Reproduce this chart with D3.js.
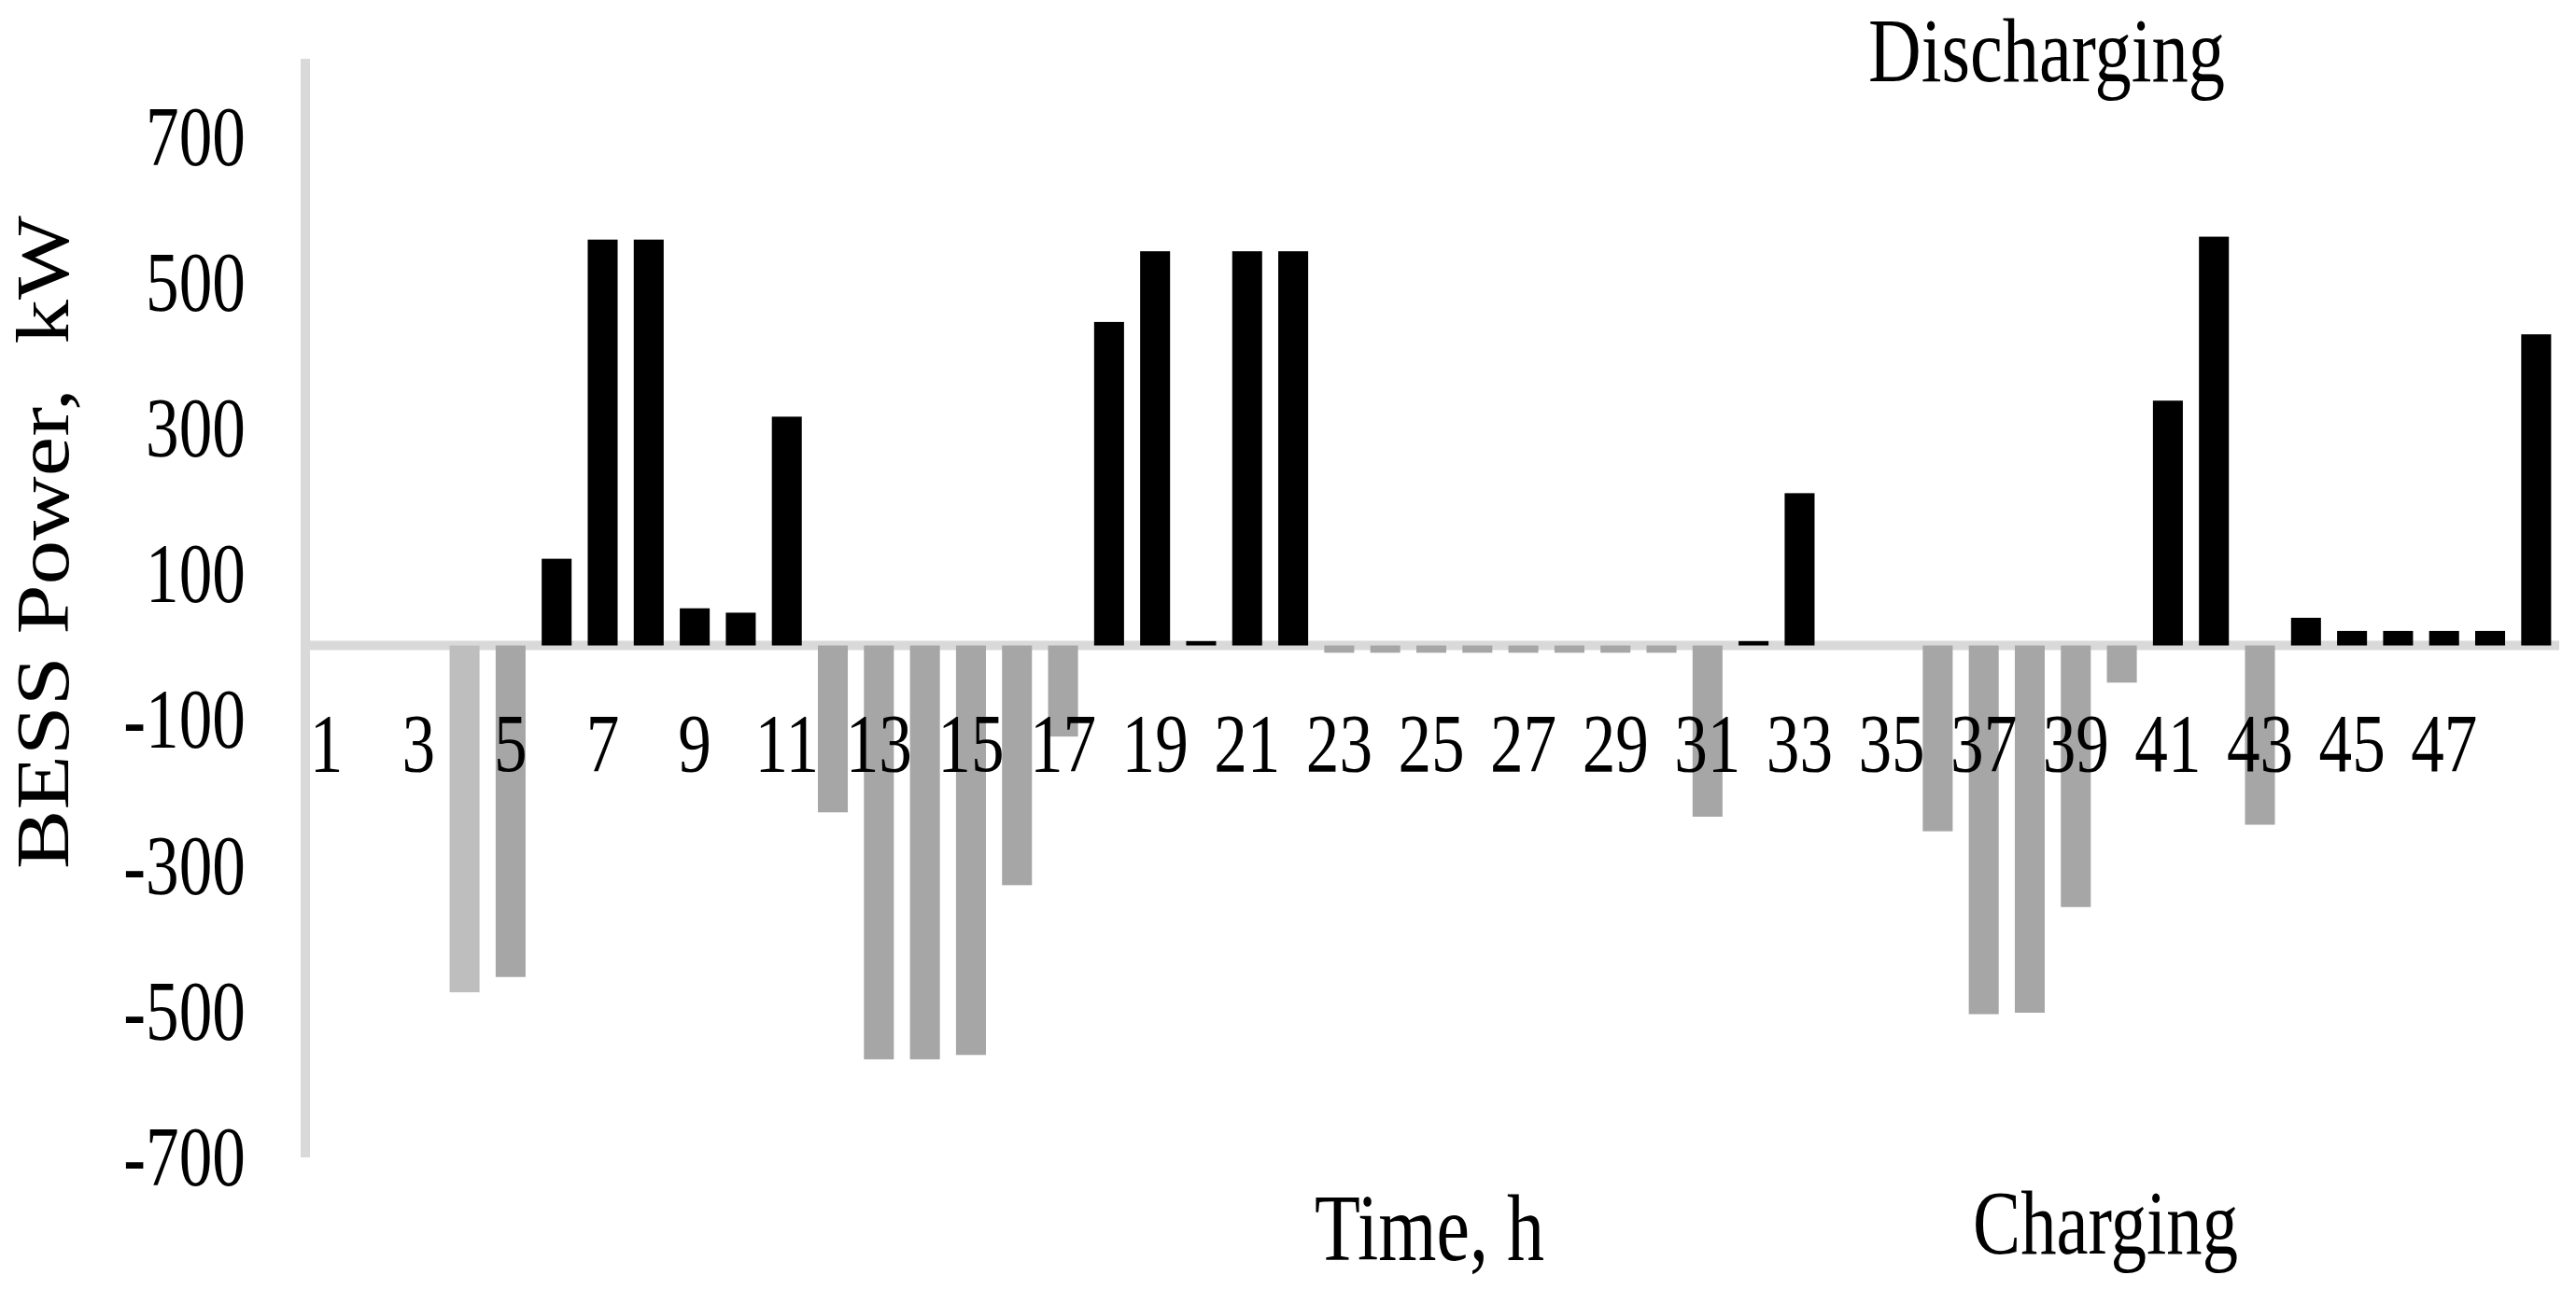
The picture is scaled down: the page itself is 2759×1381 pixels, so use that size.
<!DOCTYPE html>
<html><head><meta charset="utf-8">
<script src="https://cdn.jsdelivr.net/npm/d3@7"></script>
<style>
html,body{margin:0;padding:0;background:#fff;}
svg{display:block;}
text{font-family:"Liberation Serif","Times New Roman",serif;fill:#000;}
</style></head><body>
<svg id="chart" width="2759" height="1381"></svg>
<script>
// ---- data ----
const hours = [1,2,3,4,5,6,7,8,9,10,11,12,13,14,15,16,17,18,19,20,21,22,23,24,25,
  26,27,28,29,30,31,32,33,34,35,36,37,38,39,40,41,42,43,44,45,46,47,48,49];
const bessPower = [0,0,0,-476,-455,119,557,557,51,45,314,-229,-568,-568,-562,-329,-125,
  444,541,6,541,541,-10,-10,-10,-10,-10,-10,-10,-10,-235,6,209,0,0,-255,-506,-504,-359,
  -51,336,561,-246,38,20,20,20,20,427];
const yTickValues = [-700,-500,-300,-100,100,300,500,700];
const xTickLabels = [1,3,5,7,9,11,13,15,17,19,21,23,25,27,29,31,33,35,37,39,41,43,45,47];
const yDomain = [-700, 800];
const lighterHours = [4];

// ---- layout ----
const svg = d3.select("#chart");
const x = d3.scaleBand().domain(hours).range([325, 2741]).paddingInner(0.35).paddingOuter(0.175);
const y = d3.scaleLinear().domain(yDomain).range([1238, 67]);
const axisColor = "#D9D9D9";
const y0 = y(0);

// y-axis line
svg.append("line")
  .attr("x1", 327).attr("x2", 327)
  .attr("y1", y(yDomain[1]) - 4).attr("y2", y(yDomain[0]) + 2)
  .attr("stroke", axisColor).attr("stroke-width", 10);

// zero (category) axis line
svg.append("line")
  .attr("x1", 325).attr("x2", 2741)
  .attr("y1", y0).attr("y2", y0)
  .attr("stroke", axisColor).attr("stroke-width", 10);

// bars
svg.append("g").selectAll("rect")
  .data(hours.map((h, i) => ({h, v: bessPower[i]})))
  .join("rect")
  .attr("x", d => x(d.h))
  .attr("width", x.bandwidth())
  .attr("y", d => y(Math.max(0, d.v)))
  .attr("height", d => Math.abs(y(d.v) - y0))
  .attr("fill", d => d.v >= 0 ? "#000000" : (lighterHours.includes(d.h) ? "#BEBEBE" : "#A6A6A6"));

// y axis ticks
const sy = 0.775;
const gy = svg.append("g").attr("transform", "translate(327,0)")
  .call(d3.axisLeft(y).tickValues(yTickValues).tickSize(0).tickFormat(d => String(d)));
gy.select(".domain").remove();
gy.selectAll("text")
  .attr("x", -64 / sy).attr("dy", "0.34em")
  .attr("transform", `scale(${sy},1)`)
  .style("font-size", "92px").style("font-family", '"Liberation Serif", serif').attr("fill", "#000");

// x axis ticks
const sx = 0.8;
const gx = svg.append("g").attr("transform", `translate(0,${y0})`)
  .call(d3.axisBottom(x).tickValues(xTickLabels).tickSize(0));
gx.select(".domain").remove();
gx.selectAll("text")
  .attr("y", 134).attr("dy", 0)
  .attr("transform", `scale(${sx},1)`)
  .attr("x", 0)
  .style("font-size", "89px").style("font-family", '"Liberation Serif", serif').attr("fill", "#000");
gx.selectAll(".tick").each(function(d){
  d3.select(this).attr("transform", `translate(${x(d) + x.bandwidth()/2},0)`);
});

// titles
svg.append("text")
  .attr("transform", "translate(73,581) rotate(-90)")
  .attr("text-anchor", "middle")
  .attr("textLength", 700).attr("lengthAdjust", "spacingAndGlyphs")
  .style("font-size", "80px").style("white-space", "pre")
  .text("BESS Power,  kW");

svg.append("text")
  .attr("x", 1531).attr("y", 1350)
  .attr("text-anchor", "middle")
  .attr("textLength", 246).attr("lengthAdjust", "spacingAndGlyphs")
  .style("font-size", "102px")
  .text("Time, h");

svg.append("text")
  .attr("x", 2255).attr("y", 1343)
  .attr("text-anchor", "middle")
  .attr("textLength", 284).attr("lengthAdjust", "spacingAndGlyphs")
  .style("font-size", "97px")
  .text("Charging");

svg.append("text")
  .attr("x", 2192).attr("y", 87)
  .attr("text-anchor", "middle")
  .attr("textLength", 382).attr("lengthAdjust", "spacingAndGlyphs")
  .style("font-size", "98px")
  .text("Discharging");
</script>
</body></html>
